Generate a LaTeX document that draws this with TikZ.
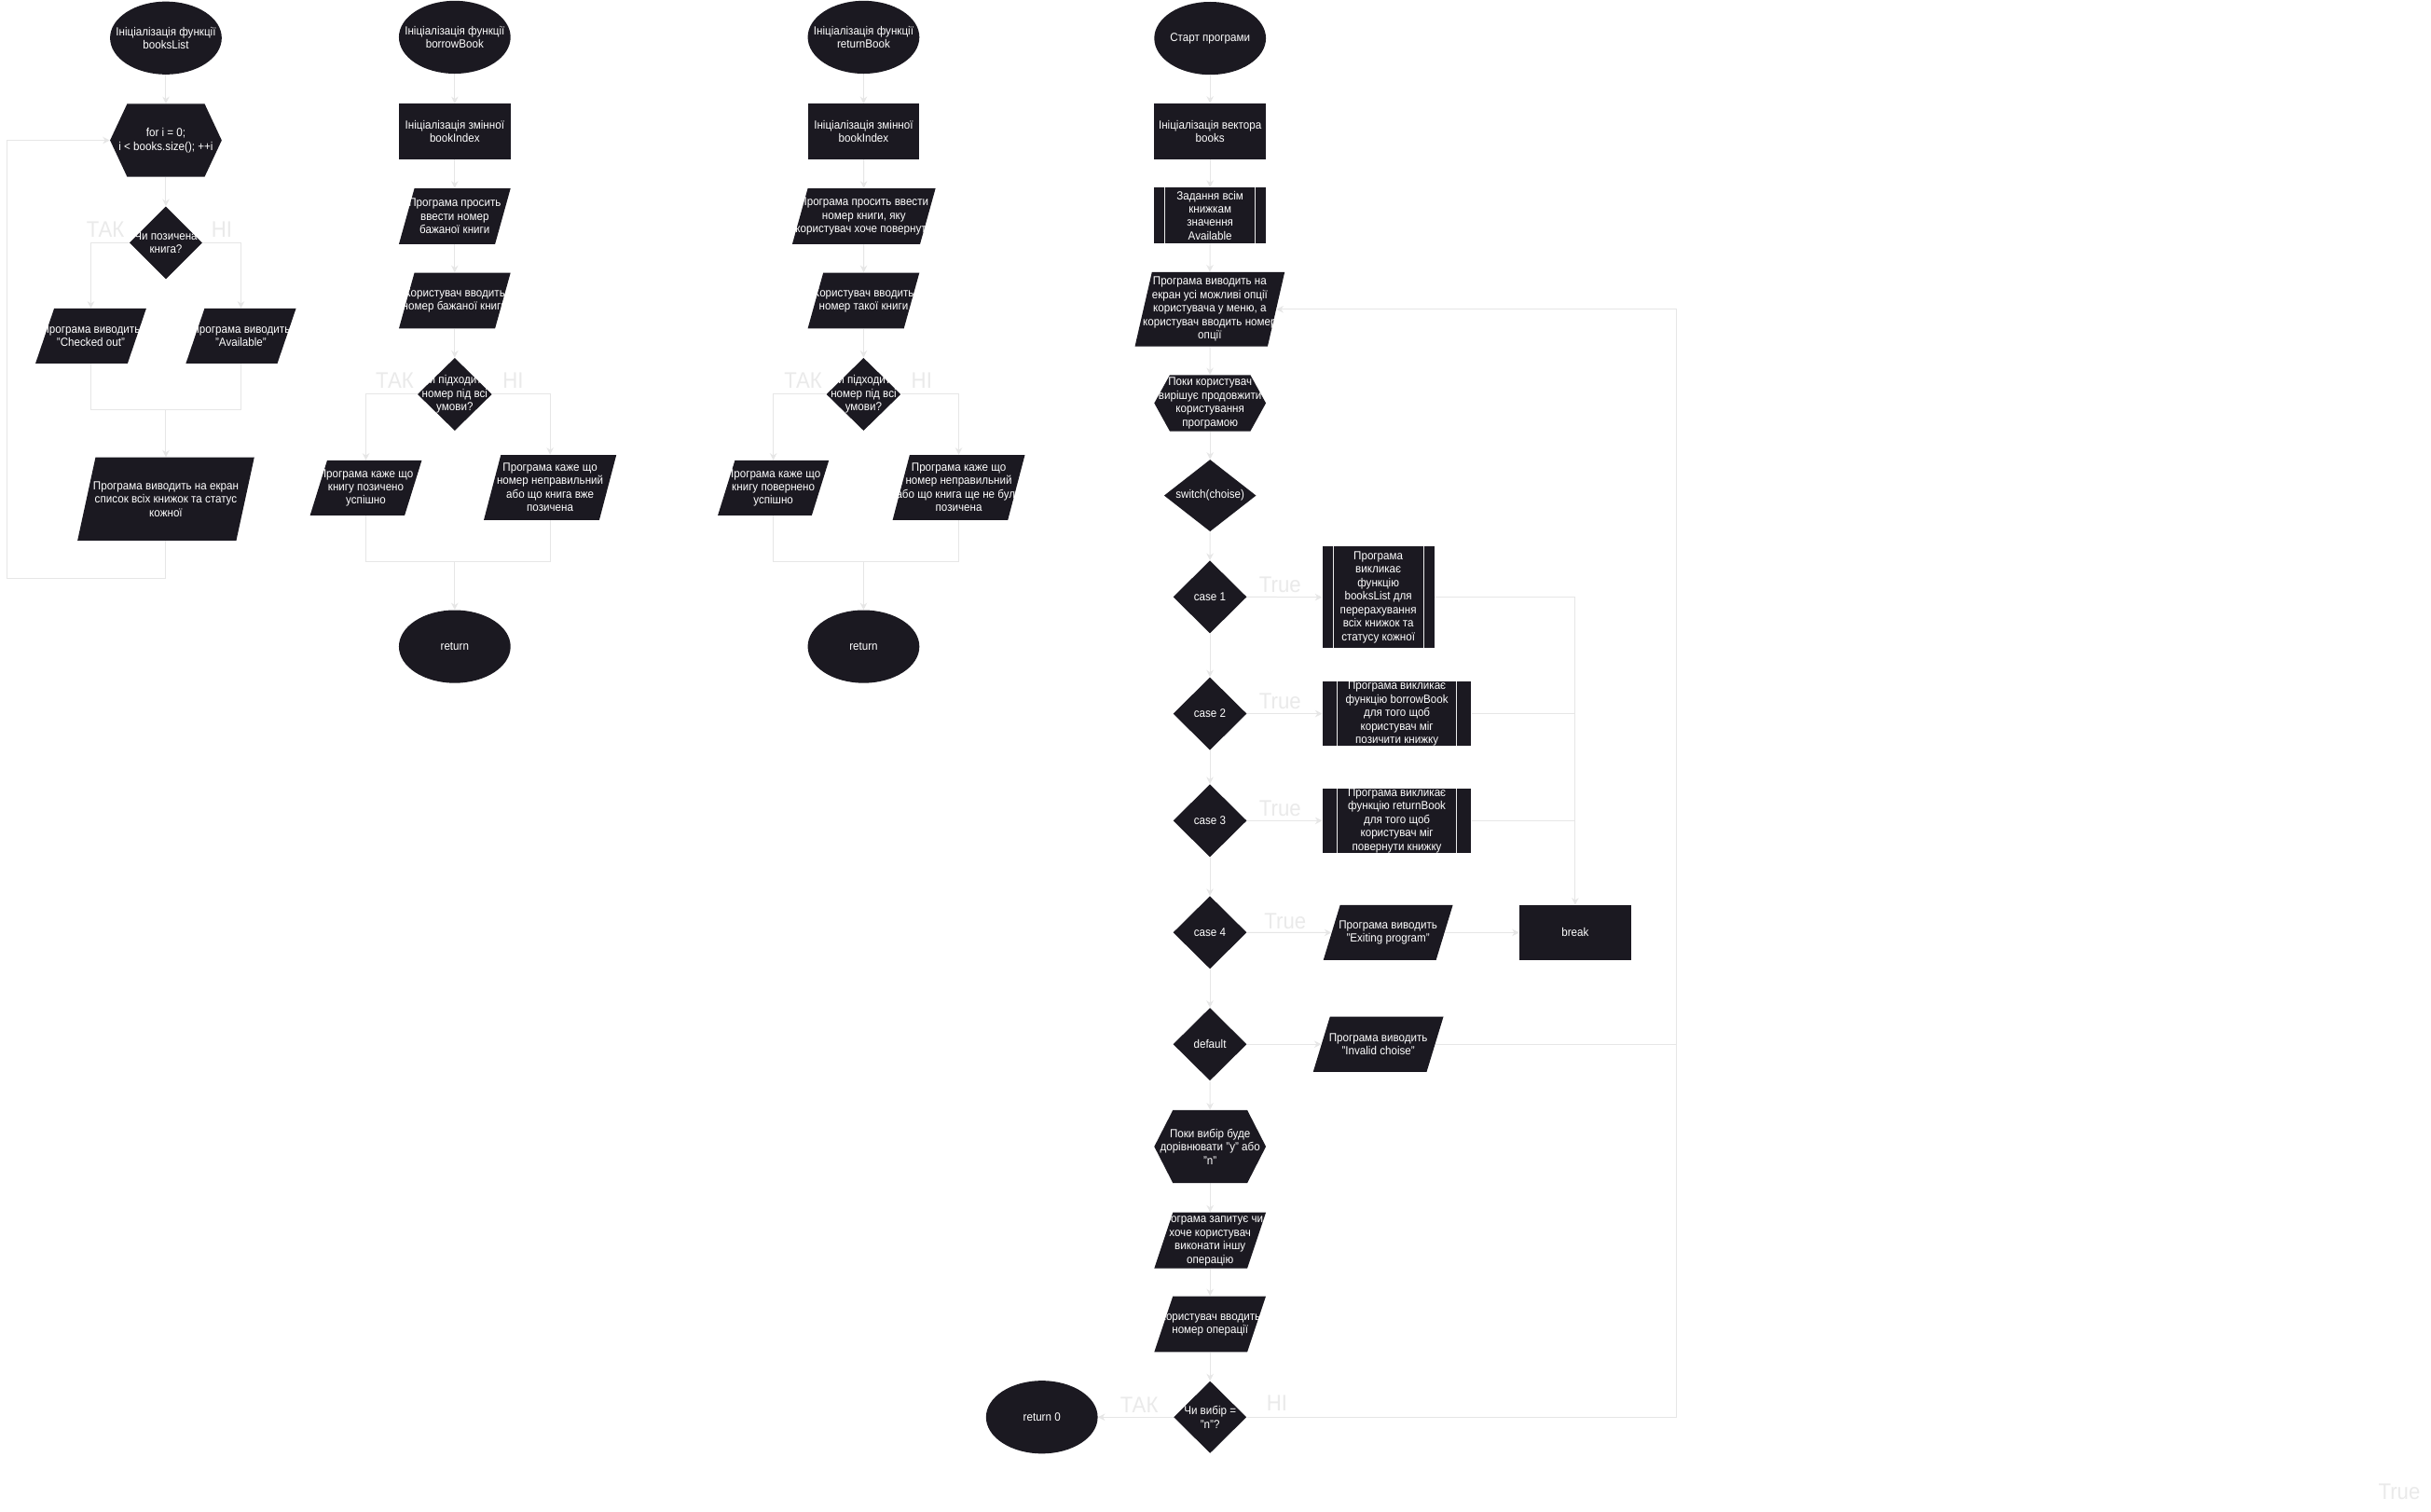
\documentclass[tikz,border=0pt]{standalone}
\usepackage{fontspec}
\setmainfont{Liberation Sans}[FakeStretch=0.92]
\usetikzlibrary{shapes.geometric,arrows.meta,backgrounds}
\definecolor{nodefill}{HTML}{1B1921}
\definecolor{linegray}{HTML}{E6E6E6}
\definecolor{lblgray}{HTML}{EAEAEA}
\tikzset{
  shapefill/.style={fill=nodefill},
  anchorbox/.style={rectangle, inner sep=0pt, draw=none},
  boxshape/.style={rectangle, inner sep=0pt, fill=nodefill},
  ellshape/.style={ellipse, inner sep=0pt, fill=nodefill},
  dia/.style={diamond, inner sep=0pt, fill=nodefill},
  innerline/.style={draw=white!92!black, line width=0.6pt},
  ntext/.style={text=white, align=center, inner sep=0pt, font=\fontsize{7.6}{8.7}\selectfont},
  lbl/.style={text=lblgray, inner sep=0pt, font=\fontsize{14.5}{16}\selectfont},
  conn/.style={draw=linegray, line width=0.6pt},
  arr/.style={conn, -{Stealth[length=4.5pt,width=4.5pt]}}
}
% name, x, y, total width, height, slant, text
\newcommand{\mkpara}[7]{%
  \fill[shapefill] ({#2-#4/2+#6},{#3-#5/2}) -- ({#2+#4/2},{#3-#5/2}) -- ({#2+#4/2-#6},{#3+#5/2}) -- ({#2-#4/2},{#3+#5/2}) -- cycle;
  \node[anchorbox, minimum width={#4-#6}, minimum height=#5] (#1) at (#2,#3) {};
  \node[ntext] (#1-t) at (#1) {#7};
}
% name, x, y, width, height, inset, text
\newcommand{\mkhex}[7]{%
  \fill[shapefill] ({#2-#4/2},#3) -- ({#2-#4/2+#6},{#3-#5/2}) -- ({#2+#4/2-#6},{#3-#5/2}) -- ({#2+#4/2},#3) -- ({#2+#4/2-#6},{#3+#5/2}) -- ({#2-#4/2+#6},{#3+#5/2}) -- cycle;
  \node[anchorbox, minimum width=#4, minimum height=#5] (#1) at (#2,#3) {};
  \node[ntext] (#1-t) at (#1) {#7};
}
% name, x, y, width, height, inner offset, text
\newcommand{\mkpre}[7]{%
  \node[boxshape, minimum width=#4, minimum height=#5] (#1) at (#2,#3) {};
  \draw[innerline] ({#2-#4/2+#6},{#3-#5/2}) -- ({#2-#4/2+#6},{#3+#5/2});
  \draw[innerline] ({#2+#4/2-#6},{#3-#5/2}) -- ({#2+#4/2-#6},{#3+#5/2});
  \node[ntext] (#1-t) at (#1) {#7};
}
% name, x, y, width, height, text
\newcommand{\mkell}[6]{%
  \node[ellshape, minimum width=#4, minimum height=#5] (#1) at (#2,#3) {};
  \node[ntext] (#1-t) at (#1) {#6};
}
\newcommand{\mkrect}[6]{%
  \node[boxshape, minimum width=#4, minimum height=#5] (#1) at (#2,#3) {};
  \node[ntext] (#1-t) at (#1) {#6};
}
\newcommand{\mkdia}[6]{%
  \node[dia, minimum width=#4, minimum height=#5] (#1) at (#2,#3) {};
  \node[ntext] (#1-t) at (#1) {#6};
}
\begin{document}
\begin{tikzpicture}[x=1pt,y=-1pt]
\useasboundingbox (0,0) rectangle (1568,974.6);
\begin{scope}[on background layer]
\fill[white] (0,0) rectangle (1568,974.6);
\end{scope}

% ---------------- column 1: booksList
\mkell{e1}{107}{24.5}{72}{47}{Ініціалізація функції\\booksList}
\mkhex{h1}{107}{90.5}{72}{47}{11}{for i = 0;\\i < books.size(); ++i}
\mkdia{d1}{107}{156.6}{47}{47}{Чи позичена\\книга?}
\mkpara{p1a}{58.6}{216.7}{71.4}{35.4}{12}{Програма виводить\\"Checked out"}
\mkpara{p1b}{155.4}{216.7}{71}{35.4}{12}{Програма виводить\\"Available"}
\mkpara{p1c}{107}{321.8}{114}{53.6}{11.6}{Програма виводить на екран\\список всіх книжок та статус\\кожної}
\coordinate (m1) at (107,264.3);
\coordinate (lp1) at (107,373);
\coordinate (lp2) at (4.6,373);
\coordinate (lp3) at (4.6,90.5);
\node[lbl] (l1a) at (68,148) {ТАК};
\node[lbl] (l1b) at (143,148) {НІ};

% ---------------- column 2: borrowBook
\mkell{e2}{293.3}{24}{72}{47}{Ініціалізація функції\\borrowBook}
\mkrect{r2}{293.3}{84.8}{72}{35.6}{Ініціалізація змінної\\bookIndex}
\mkpara{p2a}{293.3}{139.5}{72}{36}{10}{Програма просить\\ввести номер\\бажаної книги}
\mkpara{p2b}{293.3}{193.9}{72}{36}{10}{Користувач вводить\\номер бажаної книги}
\mkdia{d2}{293.3}{254.3}{48}{47}{Чи підходить\\номер під всі\\умови?}
\mkpara{p2c}{236}{314.7}{72}{35.4}{11}{Програма каже що\\книгу позичено\\успішно}
\mkpara{p2d}{354.8}{314.4}{85.5}{42}{11}{Програма каже що\\номер неправильний\\або що книга вже\\позичена}
\coordinate (m2) at (293.3,362.2);
\mkell{e2b}{293.3}{417}{72}{47}{return}
\node[lbl] (l2a) at (254.6,245.7) {ТАК};
\node[lbl] (l2b) at (331,245.7) {НІ};

% ---------------- column 3: returnBook
\mkell{e3}{557}{24}{72}{47}{Ініціалізація функції\\returnBook}
\mkrect{r3}{557}{84.8}{72}{35.6}{Ініціалізація змінної\\bookIndex}
\mkpara{p3a}{557.2}{139.5}{92.4}{36}{10}{Програма просить ввести\\номер книги, яку\\користувач хоче повернути}
\mkpara{p3b}{557}{193.9}{72}{36}{10}{Користувач вводить\\номер такої книги}
\mkdia{d3}{557}{254.3}{48}{47}{Чи підходить\\номер під всі\\умови?}
\mkpara{p3c}{498.8}{314.7}{71.6}{35.4}{11}{Програма каже що\\книгу повернено\\успішно}
\mkpara{p3d}{618.4}{314.4}{85.3}{42}{11}{Програма каже що\\номер неправильний\\або що книга ще не була\\позичена}
\coordinate (m3) at (557,362.2);
\mkell{e3b}{557}{417}{72}{47}{return}
\node[lbl] (l3a) at (518,245.7) {ТАК};
\node[lbl] (l3b) at (594.5,245.7) {НІ};

% ---------------- column 4: main
\mkell{e4}{780.5}{24.7}{72}{47}{Старт програми}
\mkrect{r4}{780.5}{84.8}{72}{36}{Ініціалізація вектора\\books}
\mkpre{s4}{780.5}{139}{72}{36}{6.8}{Задання всім\\книжкам\\значення\\Available}
\mkpara{p4a}{780.3}{199.5}{96.6}{48}{11}{Програма виводить на\\екран усі можливі опції\\користувача у меню, а\\користувач вводить номер\\опції}
\mkhex{h4}{780.5}{260}{72}{36.2}{10}{Поки користувач\\вирішує продовжити\\користування\\програмою}
\mkdia{d4}{780.5}{319.6}{59.4}{46.4}{switch(choise)}
\mkdia{c1}{780.4}{385}{47.5}{47}{case 1}
\mkdia{c2}{780.4}{460.3}{47.5}{47}{case 2}
\mkdia{c3}{780.4}{529.3}{47.5}{47}{case 3}
\mkdia{c4}{780.4}{601.4}{47.5}{47}{case 4}
\mkdia{cd}{780.4}{673.5}{47.5}{47}{default}
\mkpre{s1}{889}{385.2}{72.2}{65.7}{7}{Програма\\викликає\\функцію\\booksList для\\перерахування\\всіх книжок та\\статусу кожної}
\mkpre{s2}{901}{460.3}{96}{41.5}{9.5}{Програма викликає\\функцію borrowBook\\для того щоб\\користувач міг\\позичити книжку}
\mkpre{s3}{901}{529.3}{96}{41.5}{9.5}{Програма викликає\\функцію returnBook\\для того щоб\\користувач міг\\повернути книжку}
\mkpara{p4x}{895.3}{601.5}{83.5}{35.5}{10.8}{Програма виводить\\"Exiting program"}
\mkrect{brk}{1016}{601.5}{72}{35.5}{break}
\mkpara{pd}{889}{673.5}{84}{35.5}{10.8}{Програма виводить\\"Invalid choise"}
\mkhex{h5}{780.5}{739.5}{72}{47}{12}{Поки вибір буде\\дорівнювати "y" або\\"n"}
\mkpara{p5}{780.5}{800}{72}{36}{12}{Програма запитує чи\\хоче користувач\\виконати іншу\\операцію}
\mkpara{p6}{780.5}{854}{72}{36}{12}{Користувач вводить\\номер операції}
\mkdia{d5}{780.5}{914}{47}{46.5}{Чи вибір =\\"n"?}
\mkell{e5}{672}{914}{72}{47}{return 0}
\coordinate (rt) at (1081,199.5);
\coordinate (rb) at (1081,914);
\node[lbl] (t1) at (825.7,377) {True};
\node[lbl] (t2) at (825.7,452.3) {True};
\node[lbl] (t3) at (825.7,521.3) {True};
\node[lbl] (t4) at (829,594) {True};
\node[lbl] (t5) at (1547.5,962) {True};
\node[lbl] (l5a) at (734.8,906.4) {ТАК};
\node[lbl] (l5b) at (823.6,905) {НІ};

% ---------------- connectors
\begin{scope}[on background layer]
% column 1
\draw[arr] (e1) -- (h1);
\draw[arr] (h1) -- (d1);
\draw[arr] (d1.west) -| (p1a.north);
\draw[arr] (d1.east) -| (p1b.north);
\draw[conn] (p1a.south) |- (m1) -| (p1b.south);
\draw[arr] (m1) -- (p1c.north);
\draw[arr] (p1c.south) -- (lp1) -- (lp2) -- (lp3) -- (h1.west);
% column 2
\draw[arr] (e2) -- (r2);
\draw[arr] (r2) -- (p2a);
\draw[arr] (p2a) -- (p2b);
\draw[arr] (p2b) -- (d2);
\draw[arr] (d2.west) -| (p2c.north);
\draw[arr] (d2.east) -| (p2d.north);
\draw[conn] (p2c.south) |- (m2) -| (p2d.south);
\draw[arr] (m2) -- (e2b.north);
% column 3
\draw[arr] (e3) -- (r3);
\draw[arr] (r3) -- (p3a);
\draw[arr] (p3a) -- (p3b);
\draw[arr] (p3b) -- (d3);
\draw[arr] (d3.west) -| (p3c.north);
\draw[arr] (d3.east) -| (p3d.north);
\draw[conn] (p3c.south) |- (m3) -| (p3d.south);
\draw[arr] (m3) -- (e3b.north);
% column 4
\draw[arr] (e4) -- (r4);
\draw[arr] (r4) -- (s4);
\draw[arr] (s4) -- (p4a);
\draw[arr] (p4a) -- (h4);
\draw[arr] (h4) -- (d4);
\draw[arr] (d4) -- (c1);
\draw[arr] (c1) -- (c2);
\draw[arr] (c2) -- (c3);
\draw[arr] (c3) -- (c4);
\draw[arr] (c4) -- (cd);
\draw[arr] (cd) -- (h5);
\draw[arr] (h5) -- (p5);
\draw[arr] (p5) -- (p6);
\draw[arr] (p6) -- (d5);
\draw[arr] (c1.east) -- (s1.west);
\draw[arr] (c2.east) -- (s2.west);
\draw[arr] (c3.east) -- (s3.west);
\draw[arr] (c4.east) -- (p4x.west);
\draw[arr] (cd.east) -- (pd.west);
\draw[arr] (s1.east) -| (brk.north);
\draw[conn] (s2.east) -- (s2.east -| brk.north);
\draw[conn] (s3.east) -- (s3.east -| brk.north);
\draw[arr] (p4x.east) -- (brk.west);
\draw[conn] (pd.east) -- (pd.east -| rb);
\draw[arr] (d5.west) -- (e5.east);
\draw[arr] (d5.east) -- (rb) -- (rt) -- (p4a.east);
\end{scope}
\end{tikzpicture}
\end{document}
